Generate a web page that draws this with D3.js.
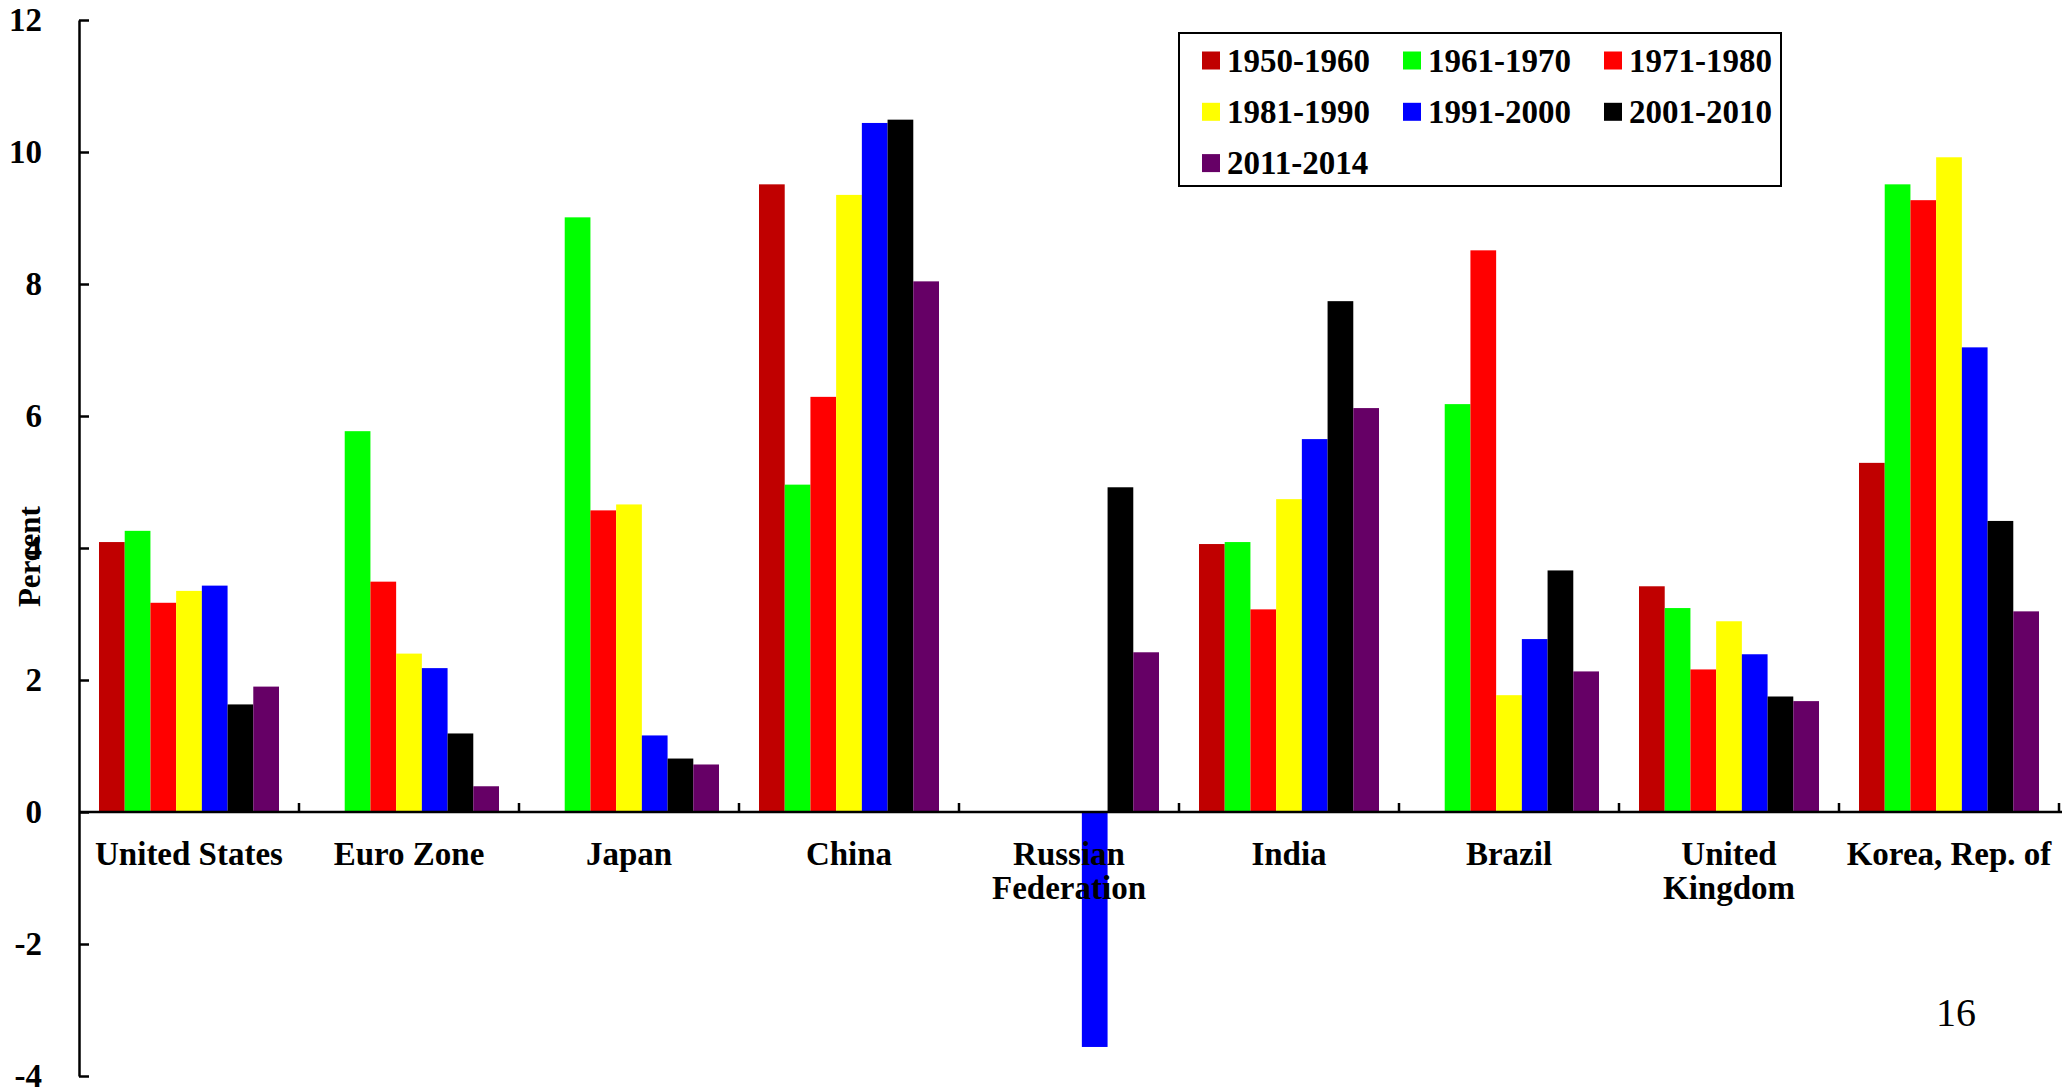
<!DOCTYPE html>
<html>
<head>
<meta charset="utf-8">
<script src="https://cdn.jsdelivr.net/npm/d3@7/dist/d3.min.js"></script>
<style>
  html, body { margin: 0; padding: 0; background: #fff; }
  svg { display: block; }
  svg text { font-family: "Liberation Serif", "Times New Roman", serif; }
</style>
</head>
<body>
<svg id="chart" width="2065" height="1091" font-family="Liberation Serif, serif"></svg>
<script>
// ---- data ----
const categories = ["United States", "Euro Zone", "Japan", "China", "Russian Federation",
                    "India", "Brazil", "United Kingdom", "Korea, Rep. of"];
const categoryLines = [["United States"], ["Euro Zone"], ["Japan"], ["China"], ["Russian", "Federation"],
                       ["India"], ["Brazil"], ["United", "Kingdom"], ["Korea, Rep. of"]];
const series = ["1950-1960", "1961-1970", "1971-1980", "1981-1990", "1991-2000", "2001-2010", "2011-2014"];
const colors = ["#C00000", "#00FF00", "#FF0000", "#FFFF00", "#0000FF", "#000000", "#660066"];

const v1950_1960 = [4.09, null, null, 9.51, null, 4.06, null, 3.42, 5.29];
const v1961_1970 = [4.26, 5.77, 9.01, 4.96, null, 4.09, 6.18, 3.09, 9.51];
const v1971_1980 = [3.17, 3.49, 4.57, 6.29, null, 3.07, 8.51, 2.16, 9.27];
const v1981_1990 = [3.35, 2.40, 4.66, 9.35, null, 4.74, 1.77, 2.89, 9.92];
const v1991_2000 = [3.43, 2.18, 1.16, 10.44, -3.56, 5.65, 2.62, 2.39, 7.04];
const v2001_2010 = [1.63, 1.19, 0.81, 10.49, 4.92, 7.74, 3.66, 1.75, 4.41];
const v2011_2014 = [1.90, 0.39, 0.72, 8.04, 2.42, 6.12, 2.13, 1.68, 3.04];
const seriesValues = [v1950_1960, v1961_1970, v1971_1980, v1981_1990, v1991_2000, v2001_2010, v2011_2014];

const yTicks = [-4, -2, 0, 2, 4, 6, 8, 10, 12];
const yLabel = "Percent";
const pageNumber = "16";

// ---- layout ----
const svg = d3.select("#chart");
const plotLeft = 79, plotRight = 2059, plotTop = 20, plotBottom = 1076;
const FONT = 33;
const SERIF = "Liberation Serif, serif";

const x0 = d3.scaleBand().domain(categories).range([plotLeft, plotRight]).padding(0);
const bw = x0.bandwidth();
const x1 = d3.scaleBand().domain(series).range([bw * 20 / 220, bw * 200 / 220]).padding(0);
const y = d3.scaleLinear().domain([-4, 12]).range([plotBottom, plotTop]);
const color = d3.scaleOrdinal().domain(series).range(colors);

// bars
const rows = [];
categories.forEach((c, ci) => {
  series.forEach((s, si) => {
    const v = seriesValues[si][ci];
    if (v !== null && v !== undefined) rows.push({ c, s, v });
  });
});
svg.append("g").selectAll("rect").data(rows).join("rect")
  .attr("x", d => x0(d.c) + x1(d.s))
  .attr("width", x1.bandwidth())
  .attr("y", d => y(Math.max(0, d.v)))
  .attr("height", d => Math.abs(y(d.v) - y(0)))
  .attr("fill", d => color(d.s));

// y axis
const yAxis = d3.axisLeft(y).tickValues(yTicks).tickFormat(d => String(d))
  .tickSizeInner(-10).tickSizeOuter(0).tickPadding(37);
const gy = svg.append("g").attr("transform", `translate(${plotLeft},0)`).call(yAxis)
  .attr("font-family", SERIF);
gy.select(".domain").attr("stroke", "#000").attr("stroke-width", 2.5);
gy.selectAll(".tick line").attr("stroke", "#000").attr("stroke-width", 2.5);
gy.selectAll(".tick text")
  .attr("font-family", SERIF).attr("font-weight", "bold")
  .attr("font-size", FONT).attr("fill", "#000");

// x axis line at zero
const gx = svg.append("g");
gx.append("line")
  .attr("x1", plotLeft).attr("x2", plotRight + 3)
  .attr("y1", y(0)).attr("y2", y(0))
  .attr("stroke", "#000").attr("stroke-width", 2.5);
const bounds = categories.slice(1).map(c => x0(c)).concat([plotRight]);
gx.selectAll("line.bt").data(bounds).join("line").attr("class", "bt")
  .attr("x1", d => d).attr("x2", d => d)
  .attr("y1", y(0)).attr("y2", y(0) - 9)
  .attr("stroke", "#000").attr("stroke-width", 2.5);

// category labels
const lab = svg.append("g");
categories.forEach((c, i) => {
  const t = lab.append("text")
    .attr("x", x0(c) + bw / 2).attr("y", y(0) + 53)
    .attr("text-anchor", "middle").attr("font-family", SERIF)
    .attr("font-weight", "bold").attr("font-size", FONT).attr("fill", "#000");
  categoryLines[i].forEach((line, li) => {
    t.append("tspan").attr("x", x0(c) + bw / 2).attr("dy", li === 0 ? 0 : 34).text(line);
  });
});

// y label
svg.append("text")
  .attr("transform", `translate(40,${y(3.87)}) rotate(-90)`)
  .attr("text-anchor", "middle").attr("font-family", SERIF)
  .attr("font-weight", "bold").attr("font-size", 31).attr("fill", "#000")
  .text(yLabel);

// legend
const lg = svg.append("g");
lg.append("rect").attr("x", 1179).attr("y", 33).attr("width", 602).attr("height", 153)
  .attr("fill", "#fff").attr("stroke", "#000").attr("stroke-width", 2);
series.forEach((s, i) => {
  const col = i % 3, row = Math.floor(i / 3);
  const lx = 1202 + col * 201, ly = 60.5 + row * 51.3;
  lg.append("rect").attr("x", lx).attr("y", ly - 9).attr("width", 18).attr("height", 18)
    .attr("fill", color(s));
  lg.append("text").attr("x", lx + 25).attr("y", ly + 11).attr("font-family", SERIF)
    .attr("font-weight", "bold").attr("font-size", FONT).attr("fill", "#000").text(s);
});

// page number
svg.append("text").attr("x", 1956).attr("y", 1026).attr("text-anchor", "middle")
  .attr("font-family", SERIF).attr("font-size", 40).attr("fill", "#000").text(pageNumber);
</script>
</body>
</html>
